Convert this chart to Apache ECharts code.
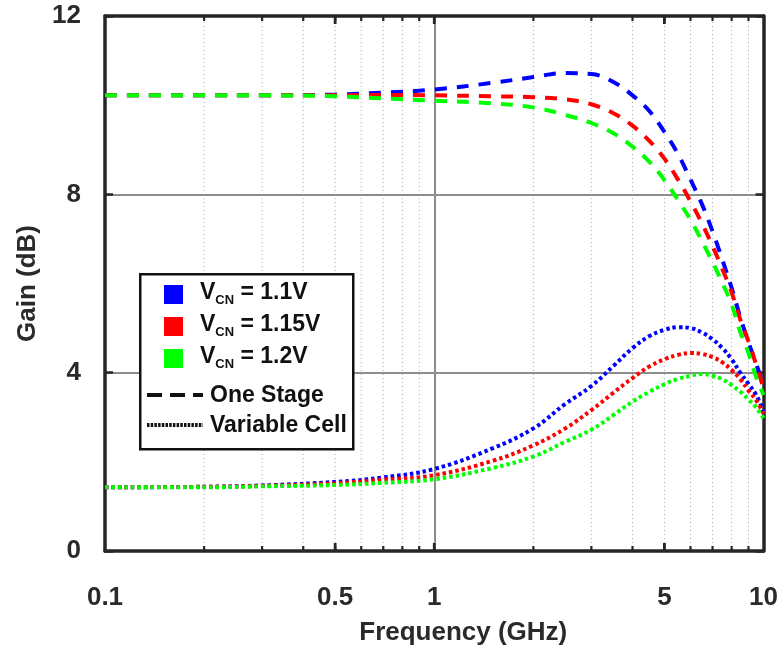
<!DOCTYPE html>
<html>
<head>
<meta charset="utf-8">
<script src="https://cdn.jsdelivr.net/npm/echarts@6/dist/echarts.min.js"></script>
<style>
html,body{margin:0;padding:0;background:#fff;}
#chart{width:781px;height:653px;}
</style>
</head>
<body>
<div id="chart"></div>
<script>
// ---------- data ----------
const freqGHz = [0.1, 0.2, 0.3, 0.5, 0.7, 1, 1.5, 2, 2.5, 3, 3.5, 4, 4.5, 5, 5.5, 6, 6.5, 7, 7.5, 8, 8.5, 9, 9.5, 10];

const oneStage_1p1  = [10.22, 10.22, 10.22, 10.24, 10.28, 10.35, 10.50, 10.63, 10.72, 10.70, 10.52, 10.22, 9.87, 9.40, 8.90, 8.33, 7.78, 7.17, 6.53, 5.90, 5.24, 4.68, 4.20, 3.70];
const oneStage_1p15 = [10.22, 10.22, 10.22, 10.22, 10.23, 10.22, 10.20, 10.18, 10.13, 10.02, 9.82, 9.54, 9.20, 8.80, 8.33, 7.84, 7.35, 6.84, 6.32, 5.80, 5.19, 4.70, 4.18, 3.65];
const oneStage_1p2  = [10.22, 10.22, 10.22, 10.20, 10.15, 10.10, 10.04, 9.95, 9.78, 9.60, 9.37, 9.07, 8.73, 8.32, 7.87, 7.43, 6.95, 6.48, 6.01, 5.53, 4.91, 4.44, 3.90, 3.50];

const varCell_1p1  = [1.43, 1.44, 1.47, 1.55, 1.65, 1.84, 2.30, 2.75, 3.30, 3.70, 4.15, 4.55, 4.82, 4.96, 5.02, 5.00, 4.90, 4.75, 4.55, 4.30, 4.00, 3.75, 3.50, 3.12];
const varCell_1p15 = [1.43, 1.44, 1.46, 1.52, 1.60, 1.70, 2.02, 2.37, 2.75, 3.16, 3.55, 3.88, 4.14, 4.30, 4.40, 4.44, 4.42, 4.35, 4.23, 4.06, 3.85, 3.60, 3.38, 3.08];
const varCell_1p2  = [1.43, 1.43, 1.45, 1.48, 1.53, 1.61, 1.86, 2.12, 2.45, 2.72, 3.05, 3.35, 3.57, 3.74, 3.86, 3.93, 3.97, 3.93, 3.85, 3.72, 3.57, 3.40, 3.22, 2.98];

const xTickLabels = [0.1, 0.5, 1, 5, 10];
const yTicks = [0, 4, 8, 12];
const minorGridX = [0.2, 0.3, 0.4, 0.5, 0.6, 0.7, 0.8, 0.9, 2, 3, 4, 5, 6, 7, 8, 9];
const majorTickX = [0.5, 1, 5];

const legendColors = ['#0000ff', '#ff0000', '#00ff00'];
const legendVcn = ['1.1V', '1.15V', '1.2V'];
const legendStyles = ['One Stage', 'Variable Cell'];

// ---------- chart ----------
const FONT = '"Liberation Sans", Arial, sans-serif';
const TXT = '#2a2a2a';
const chart = echarts.init(document.getElementById('chart'), null, {renderer: 'canvas'});

function pairs(ys) { return freqGHz.map((f, i) => [f, ys[i]]); }

function curve(name, ys, color, dash, width) {
  return {
    name: name, type: 'line', data: pairs(ys), smooth: 0.4, showSymbol: false,
    lineStyle: {color: color, width: width, type: dash, cap: 'butt'},
    z: 5, silent: true
  };
}

const DASH = [12, 10];
const DOT = [3.5, 3];

const yMin = yTicks[0], yMax = yTicks[yTicks.length - 1];

const option = {
  animation: false,
  backgroundColor: '#fff',
  grid: {left: 105, right: 14, top: 16, bottom: 102, containLabel: false},
  xAxis: [{
    type: 'log', logBase: 10, min: 0.1, max: 10, position: 'bottom',
    name: 'Frequency (GHz)', nameLocation: 'middle', nameGap: 69,
    nameTextStyle: {fontFamily: FONT, fontWeight: 'bold', fontSize: 26, color: TXT, padding: [0, 0, 0, 58]},
    axisLine: {show: true, onZero: false, lineStyle: {color: '#262626', width: 3.5}},
    axisTick: {show: false},
    axisLabel: {
      customValues: xTickLabels, margin: 34, fontFamily: FONT, fontWeight: 'bold', fontSize: 26, color: TXT,
      formatter: v => String(+(+v).toPrecision(3))
    },
    splitLine: {show: true, lineStyle: {color: '#8c8c8c', width: 2}},
    minorTick: {show: false}, minorSplitLine: {show: false}
  }, {
    type: 'log', logBase: 10, min: 0.1, max: 10, position: 'top',
    axisLine: {show: true, onZero: false, lineStyle: {color: '#262626', width: 3.5}},
    axisTick: {show: false}, axisLabel: {show: false}, splitLine: {show: false}
  }],
  yAxis: [{
    type: 'value', min: yMin, max: yMax, interval: 4, position: 'left',
    name: 'Gain (dB)', nameLocation: 'middle', nameGap: 63,
    nameTextStyle: {fontFamily: FONT, fontWeight: 'bold', fontSize: 26, color: TXT},
    axisLine: {show: true, onZero: false, lineStyle: {color: '#262626', width: 3.5}},
    axisTick: {show: true, inside: true, length: 8, lineStyle: {color: '#262626', width: 2.5}},
    axisLabel: {margin: 24, fontFamily: FONT, fontWeight: 'bold', fontSize: 26, color: TXT},
    splitLine: {show: true, lineStyle: {color: '#8c8c8c', width: 2}}
  }, {
    type: 'value', min: yMin, max: yMax, interval: 4, position: 'right',
    axisLine: {show: true, onZero: false, lineStyle: {color: '#262626', width: 3.5}},
    axisTick: {show: true, inside: true, length: 8, lineStyle: {color: '#262626', width: 2.5}},
    axisLabel: {show: false}, splitLine: {show: false}
  }],
  series: [
    {
      type: 'custom', silent: true, z: 1, clip: false,
      data: minorGridX.map(v => [v, yMin]),
      renderItem: function (params, api) {
        const x = api.value(0);
        const b = api.coord([x, yMin]);
        const t = api.coord([x, yMax]);
        return {
          type: 'group', children: [
            {type: 'line', shape: {x1: b[0], y1: b[1], x2: t[0], y2: t[1]},
             style: {stroke: '#a8a8a8', lineWidth: 1, lineDash: [1, 3]}},
            {type: 'line', shape: {x1: b[0], y1: b[1], x2: b[0], y2: b[1] - 5},
             style: {stroke: '#262626', lineWidth: 2.2}},
            {type: 'line', shape: {x1: t[0], y1: t[1], x2: t[0], y2: t[1] + 5},
             style: {stroke: '#262626', lineWidth: 2.2}}
          ]
        };
      }
    },
    {
      type: 'custom', silent: true, z: 6, clip: false,
      data: majorTickX.map(v => [v, yMin]),
      renderItem: function (params, api) {
        const x = api.value(0);
        const b = api.coord([x, yMin]);
        const t = api.coord([x, yMax]);
        return {
          type: 'group', children: [
            {type: 'line', shape: {x1: b[0], y1: b[1], x2: b[0], y2: b[1] - 8},
             style: {stroke: '#262626', lineWidth: 2.8}},
            {type: 'line', shape: {x1: t[0], y1: t[1], x2: t[0], y2: t[1] + 8},
             style: {stroke: '#262626', lineWidth: 2.8}}
          ]
        };
      }
    },
    curve('One Stage 1.1V', oneStage_1p1, legendColors[0], DASH, 4),
    curve('One Stage 1.15V', oneStage_1p15, legendColors[1], DASH, 4),
    curve('One Stage 1.2V', oneStage_1p2, legendColors[2], DASH, 4),
    curve('Variable Cell 1.1V', varCell_1p1, legendColors[0], DOT, 4),
    curve('Variable Cell 1.15V', varCell_1p15, legendColors[1], DOT, 4),
    curve('Variable Cell 1.2V', varCell_1p2, legendColors[2], DOT, 4)
  ],
  graphic: {
    elements: (function () {
      const els = [];
      const LX = 139, LY = 273;
      els.push({type: 'rect', left: LX, top: LY, z: 100,
        shape: {width: 213, height: 175},
        style: {fill: '#fff', stroke: '#111', lineWidth: 2.5}});
      legendColors.forEach((c, i) => {
        els.push({type: 'rect', left: 164, top: 285 + i * 32, z: 101,
          shape: {width: 19, height: 19}, style: {fill: c}});
        els.push({type: 'text', left: 200, top: 295 + i * 32 - 14, z: 101,
          style: {
            text: '{a|V}{b|CN}{a| = ' + legendVcn[i] + '}',
            rich: {
              a: {fontFamily: FONT, fontWeight: 'bold', fontSize: 23, lineHeight: 28, fill: '#111'},
              b: {fontFamily: FONT, fontWeight: 'bold', fontSize: 13, lineHeight: 15, verticalAlign: 'bottom', fill: '#111'}
            }
          }});
      });
      els.push({type: 'line', z: 101, shape: {x1: 147, y1: 395, x2: 203, y2: 395},
        style: {stroke: '#111', lineWidth: 4, lineDash: [15, 8]}});
      els.push({type: 'line', z: 101, shape: {x1: 147, y1: 425, x2: 203, y2: 425},
        style: {stroke: '#111', lineWidth: 4, lineDash: [2.5, 1.2]}});
      legendStyles.forEach((s, i) => {
        els.push({type: 'text', left: 210, top: 396 + i * 30 - 14, z: 101,
          style: {text: s, fontFamily: FONT, fontWeight: 'bold', fontSize: 23, lineHeight: 28, fill: '#111'}});
      });
      return els;
    })()
  }
};
chart.setOption(option);
</script>
</body>
</html>
